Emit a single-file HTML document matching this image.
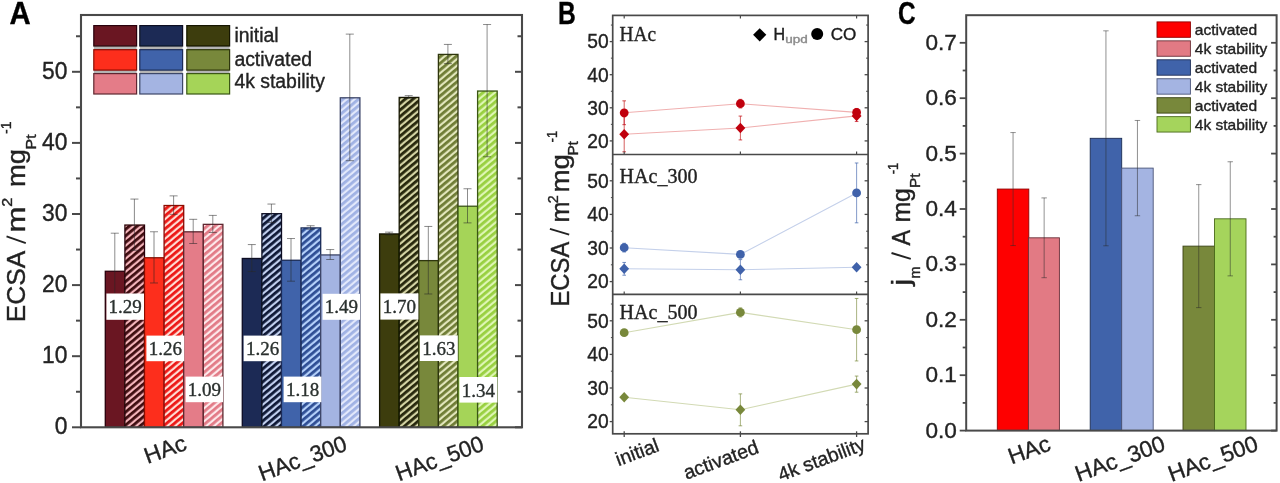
<!DOCTYPE html>
<html><head><meta charset="utf-8"><title>ECSA figure</title>
<style>
html,body{margin:0;padding:0;background:#fff;}
body{width:1280px;height:483px;overflow:hidden;font-family:"Liberation Sans",sans-serif;}
svg{display:block;}
text{stroke-width:0.36px;}
.t{stroke:#222222;}
</style></head><body>
<svg width="1280" height="483" viewBox="0 0 1280 483">
<defs>
<filter id="soft" x="0" y="0" width="1280" height="483" filterUnits="userSpaceOnUse"><feGaussianBlur stdDeviation="0.7"/></filter>
<pattern id="hr1" width="5.0" height="5.0" patternUnits="userSpaceOnUse" patternTransform="rotate(-40)"><rect width="5.0" height="5.0" fill="#f4b4ba"/><rect width="5.0" height="2.80" fill="#3e0a11"/></pattern>
<pattern id="hr2" width="5.0" height="5.0" patternUnits="userSpaceOnUse" patternTransform="rotate(-40)"><rect width="5.0" height="5.0" fill="#ffdcd4"/><rect width="5.0" height="2.80" fill="#ec1612"/></pattern>
<pattern id="hr3" width="5.0" height="5.0" patternUnits="userSpaceOnUse" patternTransform="rotate(-40)"><rect width="5.0" height="5.0" fill="#fde8ea"/><rect width="5.0" height="2.80" fill="#e27a86"/></pattern>
<pattern id="hb1" width="5.0" height="5.0" patternUnits="userSpaceOnUse" patternTransform="rotate(-40)"><rect width="5.0" height="5.0" fill="#c0ceee"/><rect width="5.0" height="2.80" fill="#0e1834"/></pattern>
<pattern id="hb2" width="5.0" height="5.0" patternUnits="userSpaceOnUse" patternTransform="rotate(-40)"><rect width="5.0" height="5.0" fill="#b4d0fa"/><rect width="5.0" height="2.80" fill="#2e4e94"/></pattern>
<pattern id="hb3" width="5.0" height="5.0" patternUnits="userSpaceOnUse" patternTransform="rotate(-40)"><rect width="5.0" height="5.0" fill="#e2e8fb"/><rect width="5.0" height="2.80" fill="#a0b2e4"/></pattern>
<pattern id="hg1" width="5.0" height="5.0" patternUnits="userSpaceOnUse" patternTransform="rotate(-40)"><rect width="5.0" height="5.0" fill="#d4d4a4"/><rect width="5.0" height="2.80" fill="#25260a"/></pattern>
<pattern id="hg2" width="5.0" height="5.0" patternUnits="userSpaceOnUse" patternTransform="rotate(-40)"><rect width="5.0" height="5.0" fill="#e2e6bc"/><rect width="5.0" height="2.80" fill="#6e7c34"/></pattern>
<pattern id="hg3" width="5.0" height="5.0" patternUnits="userSpaceOnUse" patternTransform="rotate(-40)"><rect width="5.0" height="5.0" fill="#def6b4"/><rect width="5.0" height="2.80" fill="#98d040"/></pattern>
</defs>
<rect width="1280" height="483" fill="#ffffff"/>
<g filter="url(#soft)">
<g id="panelA">
<rect x="105.30" y="271.28" width="19.60" height="156.02" fill="#6a1720" stroke="#2a060b" stroke-width="1.3"/>
<rect x="124.90" y="225.06" width="19.60" height="202.24" fill="url(#hr1)" stroke="#2a060b" stroke-width="1.3"/>
<rect x="144.50" y="257.77" width="19.60" height="169.53" fill="#fd2f1c" stroke="#8a0c06" stroke-width="1.3"/>
<rect x="164.10" y="205.51" width="19.60" height="221.79" fill="url(#hr2)" stroke="#8a0c06" stroke-width="1.3"/>
<rect x="183.70" y="231.82" width="19.60" height="195.48" fill="#e47c88" stroke="#5e2830" stroke-width="1.3"/>
<rect x="203.30" y="224.35" width="19.60" height="202.95" fill="url(#hr3)" stroke="#5e2830" stroke-width="1.3"/>
<line x1="114.80" y1="233.20" x2="114.80" y2="308.56" stroke="rgba(40,40,40,0.6)" stroke-width="0.9"/>
<line x1="110.80" y1="233.20" x2="118.80" y2="233.20" stroke="rgba(40,40,40,0.6)" stroke-width="0.9"/>
<line x1="110.80" y1="308.56" x2="118.80" y2="308.56" stroke="rgba(40,40,40,0.6)" stroke-width="0.9"/>
<line x1="134.40" y1="199.07" x2="134.40" y2="250.26" stroke="rgba(40,40,40,0.6)" stroke-width="0.9"/>
<line x1="130.40" y1="199.07" x2="138.40" y2="199.07" stroke="rgba(40,40,40,0.6)" stroke-width="0.9"/>
<line x1="130.40" y1="250.26" x2="138.40" y2="250.26" stroke="rgba(40,40,40,0.6)" stroke-width="0.9"/>
<line x1="154.00" y1="231.78" x2="154.00" y2="282.97" stroke="rgba(40,40,40,0.6)" stroke-width="0.9"/>
<line x1="150.00" y1="231.78" x2="158.00" y2="231.78" stroke="rgba(40,40,40,0.6)" stroke-width="0.9"/>
<line x1="150.00" y1="282.97" x2="158.00" y2="282.97" stroke="rgba(40,40,40,0.6)" stroke-width="0.9"/>
<line x1="173.60" y1="195.87" x2="173.60" y2="214.36" stroke="rgba(40,40,40,0.6)" stroke-width="0.9"/>
<line x1="169.60" y1="195.87" x2="177.60" y2="195.87" stroke="rgba(40,40,40,0.6)" stroke-width="0.9"/>
<line x1="169.60" y1="214.36" x2="177.60" y2="214.36" stroke="rgba(40,40,40,0.6)" stroke-width="0.9"/>
<line x1="193.20" y1="219.33" x2="193.20" y2="243.51" stroke="rgba(40,40,40,0.6)" stroke-width="0.9"/>
<line x1="189.20" y1="219.33" x2="197.20" y2="219.33" stroke="rgba(40,40,40,0.6)" stroke-width="0.9"/>
<line x1="189.20" y1="243.51" x2="197.20" y2="243.51" stroke="rgba(40,40,40,0.6)" stroke-width="0.9"/>
<line x1="212.80" y1="215.42" x2="212.80" y2="232.49" stroke="rgba(40,40,40,0.6)" stroke-width="0.9"/>
<line x1="208.80" y1="215.42" x2="216.80" y2="215.42" stroke="rgba(40,40,40,0.6)" stroke-width="0.9"/>
<line x1="208.80" y1="232.49" x2="216.80" y2="232.49" stroke="rgba(40,40,40,0.6)" stroke-width="0.9"/>
<rect x="242.30" y="258.48" width="19.60" height="168.82" fill="#1d2c55" stroke="#0a1024" stroke-width="1.3"/>
<rect x="261.90" y="213.69" width="19.60" height="213.61" fill="url(#hb1)" stroke="#0a1024" stroke-width="1.3"/>
<rect x="281.50" y="260.26" width="19.60" height="167.04" fill="#4064aa" stroke="#1a2c58" stroke-width="1.3"/>
<rect x="301.10" y="227.91" width="19.60" height="199.39" fill="url(#hb2)" stroke="#1a2c58" stroke-width="1.3"/>
<rect x="320.70" y="254.93" width="19.60" height="172.37" fill="#a4b4e2" stroke="#3c4668" stroke-width="1.3"/>
<rect x="340.30" y="97.80" width="19.60" height="329.50" fill="url(#hb3)" stroke="#3c4668" stroke-width="1.3"/>
<line x1="251.80" y1="244.57" x2="251.80" y2="271.59" stroke="rgba(40,40,40,0.6)" stroke-width="0.9"/>
<line x1="247.80" y1="244.57" x2="255.80" y2="244.57" stroke="rgba(40,40,40,0.6)" stroke-width="0.9"/>
<line x1="247.80" y1="271.59" x2="255.80" y2="271.59" stroke="rgba(40,40,40,0.6)" stroke-width="0.9"/>
<line x1="271.40" y1="204.05" x2="271.40" y2="222.53" stroke="rgba(40,40,40,0.6)" stroke-width="0.9"/>
<line x1="267.40" y1="204.05" x2="275.40" y2="204.05" stroke="rgba(40,40,40,0.6)" stroke-width="0.9"/>
<line x1="267.40" y1="222.53" x2="275.40" y2="222.53" stroke="rgba(40,40,40,0.6)" stroke-width="0.9"/>
<line x1="291.00" y1="238.53" x2="291.00" y2="281.19" stroke="rgba(40,40,40,0.6)" stroke-width="0.9"/>
<line x1="287.00" y1="238.53" x2="295.00" y2="238.53" stroke="rgba(40,40,40,0.6)" stroke-width="0.9"/>
<line x1="287.00" y1="281.19" x2="295.00" y2="281.19" stroke="rgba(40,40,40,0.6)" stroke-width="0.9"/>
<line x1="310.60" y1="225.73" x2="310.60" y2="229.29" stroke="rgba(40,40,40,0.6)" stroke-width="0.9"/>
<line x1="306.60" y1="225.73" x2="314.60" y2="225.73" stroke="rgba(40,40,40,0.6)" stroke-width="0.9"/>
<line x1="306.60" y1="229.29" x2="314.60" y2="229.29" stroke="rgba(40,40,40,0.6)" stroke-width="0.9"/>
<line x1="330.20" y1="249.55" x2="330.20" y2="259.50" stroke="rgba(40,40,40,0.6)" stroke-width="0.9"/>
<line x1="326.20" y1="249.55" x2="334.20" y2="249.55" stroke="rgba(40,40,40,0.6)" stroke-width="0.9"/>
<line x1="326.20" y1="259.50" x2="334.20" y2="259.50" stroke="rgba(40,40,40,0.6)" stroke-width="0.9"/>
<line x1="349.80" y1="34.12" x2="349.80" y2="160.68" stroke="rgba(40,40,40,0.6)" stroke-width="0.9"/>
<line x1="345.80" y1="34.12" x2="353.80" y2="34.12" stroke="rgba(40,40,40,0.6)" stroke-width="0.9"/>
<line x1="345.80" y1="160.68" x2="353.80" y2="160.68" stroke="rgba(40,40,40,0.6)" stroke-width="0.9"/>
<rect x="379.60" y="233.95" width="19.60" height="193.35" fill="#3d3e0a" stroke="#141502" stroke-width="1.3"/>
<rect x="399.20" y="97.44" width="19.60" height="329.86" fill="url(#hg1)" stroke="#141502" stroke-width="1.3"/>
<rect x="418.80" y="260.62" width="19.60" height="166.68" fill="#78883a" stroke="#2e360e" stroke-width="1.3"/>
<rect x="438.40" y="54.42" width="19.60" height="372.88" fill="url(#hg2)" stroke="#2e360e" stroke-width="1.3"/>
<rect x="458.00" y="206.22" width="19.60" height="221.08" fill="#a5d458" stroke="#3a5614" stroke-width="1.3"/>
<rect x="477.60" y="91.04" width="19.60" height="336.26" fill="url(#hg3)" stroke="#3a5614" stroke-width="1.3"/>
<line x1="389.10" y1="232.13" x2="389.10" y2="234.97" stroke="rgba(40,40,40,0.6)" stroke-width="0.9"/>
<line x1="385.10" y1="232.13" x2="393.10" y2="232.13" stroke="rgba(40,40,40,0.6)" stroke-width="0.9"/>
<line x1="385.10" y1="234.97" x2="393.10" y2="234.97" stroke="rgba(40,40,40,0.6)" stroke-width="0.9"/>
<line x1="408.70" y1="95.62" x2="408.70" y2="98.46" stroke="rgba(40,40,40,0.6)" stroke-width="0.9"/>
<line x1="404.70" y1="95.62" x2="412.70" y2="95.62" stroke="rgba(40,40,40,0.6)" stroke-width="0.9"/>
<line x1="404.70" y1="98.46" x2="412.70" y2="98.46" stroke="rgba(40,40,40,0.6)" stroke-width="0.9"/>
<line x1="428.30" y1="226.44" x2="428.30" y2="293.99" stroke="rgba(40,40,40,0.6)" stroke-width="0.9"/>
<line x1="424.30" y1="226.44" x2="432.30" y2="226.44" stroke="rgba(40,40,40,0.6)" stroke-width="0.9"/>
<line x1="424.30" y1="293.99" x2="432.30" y2="293.99" stroke="rgba(40,40,40,0.6)" stroke-width="0.9"/>
<line x1="447.90" y1="44.43" x2="447.90" y2="63.62" stroke="rgba(40,40,40,0.6)" stroke-width="0.9"/>
<line x1="443.90" y1="44.43" x2="451.90" y2="44.43" stroke="rgba(40,40,40,0.6)" stroke-width="0.9"/>
<line x1="443.90" y1="63.62" x2="451.90" y2="63.62" stroke="rgba(40,40,40,0.6)" stroke-width="0.9"/>
<line x1="467.50" y1="188.76" x2="467.50" y2="222.89" stroke="rgba(40,40,40,0.6)" stroke-width="0.9"/>
<line x1="463.50" y1="188.76" x2="471.50" y2="188.76" stroke="rgba(40,40,40,0.6)" stroke-width="0.9"/>
<line x1="463.50" y1="222.89" x2="471.50" y2="222.89" stroke="rgba(40,40,40,0.6)" stroke-width="0.9"/>
<line x1="487.10" y1="24.52" x2="487.10" y2="156.76" stroke="rgba(40,40,40,0.6)" stroke-width="0.9"/>
<line x1="483.10" y1="24.52" x2="491.10" y2="24.52" stroke="rgba(40,40,40,0.6)" stroke-width="0.9"/>
<line x1="483.10" y1="156.76" x2="491.10" y2="156.76" stroke="rgba(40,40,40,0.6)" stroke-width="0.9"/>
<rect x="106.40" y="293.50" width="37.60" height="26.30" fill="#ffffff"/>
<text x="125.20" y="313.10" font-size="19" font-family='"Liberation Serif", serif' fill="#2a302e" text-anchor="middle" stroke="#2a302e" stroke-width="0.3">1.29</text>
<rect x="146.40" y="335.60" width="37.80" height="25.60" fill="#ffffff"/>
<text x="165.30" y="355.20" font-size="19" font-family='"Liberation Serif", serif' fill="#2a302e" text-anchor="middle" stroke="#2a302e" stroke-width="0.3">1.26</text>
<rect x="185.60" y="376.60" width="37.40" height="25.60" fill="#ffffff"/>
<text x="204.30" y="396.20" font-size="19" font-family='"Liberation Serif", serif' fill="#2a302e" text-anchor="middle" stroke="#2a302e" stroke-width="0.3">1.09</text>
<rect x="243.60" y="335.60" width="37.80" height="25.60" fill="#ffffff"/>
<text x="262.50" y="355.20" font-size="19" font-family='"Liberation Serif", serif' fill="#2a302e" text-anchor="middle" stroke="#2a302e" stroke-width="0.3">1.26</text>
<rect x="283.60" y="376.60" width="37.80" height="25.60" fill="#ffffff"/>
<text x="302.50" y="396.20" font-size="19" font-family='"Liberation Serif", serif' fill="#2a302e" text-anchor="middle" stroke="#2a302e" stroke-width="0.3">1.18</text>
<rect x="322.60" y="293.80" width="37.40" height="26.00" fill="#ffffff"/>
<text x="341.30" y="313.40" font-size="19" font-family='"Liberation Serif", serif' fill="#2a302e" text-anchor="middle" stroke="#2a302e" stroke-width="0.3">1.49</text>
<rect x="380.40" y="293.40" width="38.00" height="26.20" fill="#ffffff"/>
<text x="399.40" y="313.00" font-size="19" font-family='"Liberation Serif", serif' fill="#2a302e" text-anchor="middle" stroke="#2a302e" stroke-width="0.3">1.70</text>
<rect x="419.80" y="335.40" width="38.00" height="25.60" fill="#ffffff"/>
<text x="438.80" y="355.00" font-size="19" font-family='"Liberation Serif", serif' fill="#2a302e" text-anchor="middle" stroke="#2a302e" stroke-width="0.3">1.63</text>
<rect x="459.40" y="377.00" width="38.00" height="25.60" fill="#ffffff"/>
<text x="478.40" y="396.60" font-size="19" font-family='"Liberation Serif", serif' fill="#2a302e" text-anchor="middle" stroke="#2a302e" stroke-width="0.3">1.34</text>
<rect x="81.00" y="15.00" width="441.00" height="412.30" fill="none" stroke="#4a4a4a" stroke-width="2.1"/>
<line x1="72.00" y1="427.30" x2="81.00" y2="427.30" stroke="#4a4a4a" stroke-width="2.0"/>
<line x1="515.00" y1="427.30" x2="522.00" y2="427.30" stroke="#4a4a4a" stroke-width="2.0"/>
<line x1="76.00" y1="391.75" x2="81.00" y2="391.75" stroke="#4a4a4a" stroke-width="2.0"/>
<line x1="517.50" y1="391.75" x2="522.00" y2="391.75" stroke="#4a4a4a" stroke-width="2.0"/>
<line x1="72.00" y1="356.20" x2="81.00" y2="356.20" stroke="#4a4a4a" stroke-width="2.0"/>
<line x1="515.00" y1="356.20" x2="522.00" y2="356.20" stroke="#4a4a4a" stroke-width="2.0"/>
<line x1="76.00" y1="320.65" x2="81.00" y2="320.65" stroke="#4a4a4a" stroke-width="2.0"/>
<line x1="517.50" y1="320.65" x2="522.00" y2="320.65" stroke="#4a4a4a" stroke-width="2.0"/>
<line x1="72.00" y1="285.10" x2="81.00" y2="285.10" stroke="#4a4a4a" stroke-width="2.0"/>
<line x1="515.00" y1="285.10" x2="522.00" y2="285.10" stroke="#4a4a4a" stroke-width="2.0"/>
<line x1="76.00" y1="249.55" x2="81.00" y2="249.55" stroke="#4a4a4a" stroke-width="2.0"/>
<line x1="517.50" y1="249.55" x2="522.00" y2="249.55" stroke="#4a4a4a" stroke-width="2.0"/>
<line x1="72.00" y1="214.00" x2="81.00" y2="214.00" stroke="#4a4a4a" stroke-width="2.0"/>
<line x1="515.00" y1="214.00" x2="522.00" y2="214.00" stroke="#4a4a4a" stroke-width="2.0"/>
<line x1="76.00" y1="178.45" x2="81.00" y2="178.45" stroke="#4a4a4a" stroke-width="2.0"/>
<line x1="517.50" y1="178.45" x2="522.00" y2="178.45" stroke="#4a4a4a" stroke-width="2.0"/>
<line x1="72.00" y1="142.90" x2="81.00" y2="142.90" stroke="#4a4a4a" stroke-width="2.0"/>
<line x1="515.00" y1="142.90" x2="522.00" y2="142.90" stroke="#4a4a4a" stroke-width="2.0"/>
<line x1="76.00" y1="107.35" x2="81.00" y2="107.35" stroke="#4a4a4a" stroke-width="2.0"/>
<line x1="517.50" y1="107.35" x2="522.00" y2="107.35" stroke="#4a4a4a" stroke-width="2.0"/>
<line x1="72.00" y1="71.80" x2="81.00" y2="71.80" stroke="#4a4a4a" stroke-width="2.0"/>
<line x1="515.00" y1="71.80" x2="522.00" y2="71.80" stroke="#4a4a4a" stroke-width="2.0"/>
<line x1="76.00" y1="36.25" x2="81.00" y2="36.25" stroke="#4a4a4a" stroke-width="2.0"/>
<line x1="517.50" y1="36.25" x2="522.00" y2="36.25" stroke="#4a4a4a" stroke-width="2.0"/>
<text x="67.50" y="434.10" font-size="23.6" font-family='"Liberation Sans", sans-serif' fill="#222222" stroke="#222222" text-anchor="end" textLength="12.70" lengthAdjust="spacingAndGlyphs">0</text>
<text x="67.50" y="363.00" font-size="23.6" font-family='"Liberation Sans", sans-serif' fill="#222222" stroke="#222222" text-anchor="end" textLength="25.40" lengthAdjust="spacingAndGlyphs">10</text>
<text x="67.50" y="291.90" font-size="23.6" font-family='"Liberation Sans", sans-serif' fill="#222222" stroke="#222222" text-anchor="end" textLength="25.40" lengthAdjust="spacingAndGlyphs">20</text>
<text x="67.50" y="220.80" font-size="23.6" font-family='"Liberation Sans", sans-serif' fill="#222222" stroke="#222222" text-anchor="end" textLength="25.40" lengthAdjust="spacingAndGlyphs">30</text>
<text x="67.50" y="149.70" font-size="23.6" font-family='"Liberation Sans", sans-serif' fill="#222222" stroke="#222222" text-anchor="end" textLength="25.40" lengthAdjust="spacingAndGlyphs">40</text>
<text x="67.50" y="78.60" font-size="23.6" font-family='"Liberation Sans", sans-serif' fill="#222222" stroke="#222222" text-anchor="end" textLength="25.40" lengthAdjust="spacingAndGlyphs">50</text>
<rect x="93.80" y="44.60" width="42.80" height="5.50" fill="#b4b4b4"/>
<rect x="93.80" y="25.60" width="42.80" height="20.40" fill="#6a1720" stroke="#2a060b" stroke-width="1.2"/>
<rect x="139.80" y="44.60" width="42.80" height="5.50" fill="#b4b4b4"/>
<rect x="139.80" y="25.60" width="42.80" height="20.40" fill="#1d2c55" stroke="#0a1024" stroke-width="1.2"/>
<rect x="186.80" y="44.60" width="42.80" height="5.50" fill="#b4b4b4"/>
<rect x="186.80" y="25.60" width="42.80" height="20.40" fill="#3d3e0a" stroke="#141502" stroke-width="1.2"/>
<rect x="93.80" y="68.70" width="42.80" height="5.50" fill="#b4b4b4"/>
<rect x="93.80" y="49.70" width="42.80" height="20.40" fill="#fd2f1c" stroke="#8a0c06" stroke-width="1.2"/>
<rect x="139.80" y="68.70" width="42.80" height="5.50" fill="#b4b4b4"/>
<rect x="139.80" y="49.70" width="42.80" height="20.40" fill="#4064aa" stroke="#1a2c58" stroke-width="1.2"/>
<rect x="186.80" y="68.70" width="42.80" height="5.50" fill="#b4b4b4"/>
<rect x="186.80" y="49.70" width="42.80" height="20.40" fill="#78883a" stroke="#2e360e" stroke-width="1.2"/>
<rect x="93.80" y="73.60" width="42.80" height="20.40" fill="#e47c88" stroke="#5e2830" stroke-width="1.2"/>
<rect x="139.80" y="73.60" width="42.80" height="20.40" fill="#a4b4e2" stroke="#3c4668" stroke-width="1.2"/>
<rect x="186.80" y="73.60" width="42.80" height="20.40" fill="#a5d458" stroke="#3a5614" stroke-width="1.2"/>
<text x="234.40" y="42.00" font-size="19.4" font-family='"Liberation Sans", sans-serif' fill="#222222" stroke="#222222">initial</text>
<text x="234.40" y="65.60" font-size="19.4" font-family='"Liberation Sans", sans-serif' fill="#222222" stroke="#222222">activated</text>
<text x="234.40" y="88.40" font-size="19.4" font-family='"Liberation Sans", sans-serif' fill="#222222" stroke="#222222">4k stability</text>
<text x="147.60" y="464.00" font-size="22.8" font-family='"Liberation Sans", sans-serif' fill="#222222" stroke="#222222" transform="rotate(-20 147.60 464.00)">HAc</text>
<text x="262.00" y="481.40" font-size="22.8" font-family='"Liberation Sans", sans-serif' fill="#222222" stroke="#222222" textLength="92.00" lengthAdjust="spacingAndGlyphs" transform="rotate(-20 262.00 481.40)">HAc_300</text>
<text x="399.00" y="481.40" font-size="22.8" font-family='"Liberation Sans", sans-serif' fill="#222222" stroke="#222222" textLength="92.00" lengthAdjust="spacingAndGlyphs" transform="rotate(-20 399.00 481.40)">HAc_500</text>
<g transform="translate(25.40 320.00) rotate(-90)">
<text x="-2.30" y="0.00" font-size="25.5" font-family='"Liberation Sans", sans-serif' fill="#222222" stroke="#222222" textLength="71.50" lengthAdjust="spacingAndGlyphs">ECSA</text>
<line x1="76.80" y1="0.4" x2="83.70" y2="-18.87" stroke="#222222" stroke-width="1.9"/>
<text x="87.60" y="0.00" font-size="25.5" font-family='"Liberation Sans", sans-serif' fill="#222222" stroke="#222222" textLength="26.00" lengthAdjust="spacingAndGlyphs">m</text>
<text x="113.20" y="-13.00" font-size="14" font-family='"Liberation Sans", sans-serif' fill="#222222" stroke="#222222" textLength="9.00" lengthAdjust="spacingAndGlyphs">2</text>
<text x="133.00" y="0.00" font-size="25.5" font-family='"Liberation Sans", sans-serif' fill="#222222" stroke="#222222" textLength="38.00" lengthAdjust="spacingAndGlyphs">mg</text>
<text x="170.60" y="10.60" font-size="14" font-family='"Liberation Sans", sans-serif' fill="#222222" stroke="#222222" textLength="15.00" lengthAdjust="spacingAndGlyphs">Pt</text>
<text x="186.00" y="-14.50" font-size="14" font-family='"Liberation Sans", sans-serif' fill="#222222" stroke="#222222" textLength="12.50" lengthAdjust="spacingAndGlyphs">-1</text>
</g>
<text x="9.60" y="24.20" font-size="31.6" font-family='"Liberation Sans", sans-serif' fill="#000" stroke="#000" font-weight="bold" textLength="21.20" lengthAdjust="spacingAndGlyphs">A</text>
</g>
<g id="panelB">
<clipPath id="cb0"><rect x="612.7" y="15.4" width="255.39999999999998" height="139.1"/></clipPath>
<g clip-path="url(#cb0)">
<polyline points="624.2,134.3 740.4,128.0 856.6,115.9" fill="none" stroke="#f0b0b0" stroke-width="1.1"/>
<line x1="624.20" y1="116.74" x2="624.20" y2="151.82" stroke="#c0000c" stroke-width="0.9" opacity="0.7"/>
<line x1="622.40" y1="116.74" x2="626.00" y2="116.74" stroke="#c0000c" stroke-width="1.0" opacity="0.7"/>
<line x1="622.40" y1="151.82" x2="626.00" y2="151.82" stroke="#c0000c" stroke-width="1.0" opacity="0.7"/>
<line x1="740.40" y1="116.08" x2="740.40" y2="139.91" stroke="#c0000c" stroke-width="0.9" opacity="0.7"/>
<line x1="738.60" y1="116.08" x2="742.20" y2="116.08" stroke="#c0000c" stroke-width="1.0" opacity="0.7"/>
<line x1="738.60" y1="139.91" x2="742.20" y2="139.91" stroke="#c0000c" stroke-width="1.0" opacity="0.7"/>
<line x1="856.60" y1="110.28" x2="856.60" y2="121.54" stroke="#c0000c" stroke-width="0.9" opacity="0.7"/>
<line x1="854.80" y1="110.28" x2="858.40" y2="110.28" stroke="#c0000c" stroke-width="1.0" opacity="0.7"/>
<line x1="854.80" y1="121.54" x2="858.40" y2="121.54" stroke="#c0000c" stroke-width="1.0" opacity="0.7"/>
<path d="M619.3 134.3 L624.2 129.0 L629.1 134.3 L624.2 139.6 Z" fill="#c0000c"/>
<path d="M735.5 128.0 L740.4 122.7 L745.3 128.0 L740.4 133.3 Z" fill="#c0000c"/>
<path d="M851.7 115.9 L856.6 110.6 L861.5 115.9 L856.6 121.2 Z" fill="#c0000c"/>
<polyline points="624.2,112.8 740.4,103.7 856.6,112.4" fill="none" stroke="#f0b0b0" stroke-width="1.1"/>
<line x1="624.20" y1="100.85" x2="624.20" y2="124.68" stroke="#c0000c" stroke-width="0.9" opacity="0.7"/>
<line x1="622.40" y1="100.85" x2="626.00" y2="100.85" stroke="#c0000c" stroke-width="1.0" opacity="0.7"/>
<line x1="622.40" y1="124.68" x2="626.00" y2="124.68" stroke="#c0000c" stroke-width="1.0" opacity="0.7"/>
<line x1="740.40" y1="99.36" x2="740.40" y2="107.97" stroke="#c0000c" stroke-width="0.9" opacity="0.7"/>
<line x1="738.60" y1="99.36" x2="742.20" y2="99.36" stroke="#c0000c" stroke-width="1.0" opacity="0.7"/>
<line x1="738.60" y1="107.97" x2="742.20" y2="107.97" stroke="#c0000c" stroke-width="1.0" opacity="0.7"/>
<line x1="856.60" y1="108.46" x2="856.60" y2="116.41" stroke="#c0000c" stroke-width="0.9" opacity="0.7"/>
<line x1="854.80" y1="108.46" x2="858.40" y2="108.46" stroke="#c0000c" stroke-width="1.0" opacity="0.7"/>
<line x1="854.80" y1="116.41" x2="858.40" y2="116.41" stroke="#c0000c" stroke-width="1.0" opacity="0.7"/>
<circle cx="624.2" cy="112.8" r="4.4" fill="#c0000c"/>
<circle cx="740.4" cy="103.7" r="4.4" fill="#c0000c"/>
<circle cx="856.6" cy="112.4" r="4.4" fill="#c0000c"/>
</g>
<line x1="609.70" y1="140.90" x2="612.70" y2="140.90" stroke="#4a4a4a" stroke-width="1.3"/>
<line x1="864.60" y1="140.90" x2="868.10" y2="140.90" stroke="#4a4a4a" stroke-width="1.3"/>
<text x="608.60" y="147.70" font-size="20.2" font-family='"Liberation Sans", sans-serif' fill="#222222" stroke="#222222" text-anchor="end" textLength="21.40" lengthAdjust="spacingAndGlyphs">20</text>
<line x1="609.70" y1="107.80" x2="612.70" y2="107.80" stroke="#4a4a4a" stroke-width="1.3"/>
<line x1="864.60" y1="107.80" x2="868.10" y2="107.80" stroke="#4a4a4a" stroke-width="1.3"/>
<text x="608.60" y="114.60" font-size="20.2" font-family='"Liberation Sans", sans-serif' fill="#222222" stroke="#222222" text-anchor="end" textLength="21.40" lengthAdjust="spacingAndGlyphs">30</text>
<line x1="609.70" y1="74.70" x2="612.70" y2="74.70" stroke="#4a4a4a" stroke-width="1.3"/>
<line x1="864.60" y1="74.70" x2="868.10" y2="74.70" stroke="#4a4a4a" stroke-width="1.3"/>
<text x="608.60" y="81.50" font-size="20.2" font-family='"Liberation Sans", sans-serif' fill="#222222" stroke="#222222" text-anchor="end" textLength="21.40" lengthAdjust="spacingAndGlyphs">40</text>
<line x1="609.70" y1="41.60" x2="612.70" y2="41.60" stroke="#4a4a4a" stroke-width="1.3"/>
<line x1="864.60" y1="41.60" x2="868.10" y2="41.60" stroke="#4a4a4a" stroke-width="1.3"/>
<text x="608.60" y="48.40" font-size="20.2" font-family='"Liberation Sans", sans-serif' fill="#222222" stroke="#222222" text-anchor="end" textLength="21.40" lengthAdjust="spacingAndGlyphs">50</text>
<line x1="610.90" y1="124.35" x2="612.70" y2="124.35" stroke="#4a4a4a" stroke-width="1.0"/>
<line x1="866.10" y1="124.35" x2="868.10" y2="124.35" stroke="#4a4a4a" stroke-width="1.0"/>
<line x1="610.90" y1="91.25" x2="612.70" y2="91.25" stroke="#4a4a4a" stroke-width="1.0"/>
<line x1="866.10" y1="91.25" x2="868.10" y2="91.25" stroke="#4a4a4a" stroke-width="1.0"/>
<line x1="610.90" y1="58.15" x2="612.70" y2="58.15" stroke="#4a4a4a" stroke-width="1.0"/>
<line x1="866.10" y1="58.15" x2="868.10" y2="58.15" stroke="#4a4a4a" stroke-width="1.0"/>
<line x1="610.90" y1="25.05" x2="612.70" y2="25.05" stroke="#4a4a4a" stroke-width="1.0"/>
<line x1="866.10" y1="25.05" x2="868.10" y2="25.05" stroke="#4a4a4a" stroke-width="1.0"/>
<clipPath id="cb1"><rect x="612.7" y="154.5" width="255.39999999999998" height="139.89999999999998"/></clipPath>
<g clip-path="url(#cb1)">
<polyline points="624.2,268.8 740.4,269.7 856.6,267.2" fill="none" stroke="#c4d0ea" stroke-width="1.1"/>
<line x1="624.20" y1="262.45" x2="624.20" y2="275.22" stroke="#3f62aa" stroke-width="0.9" opacity="0.7"/>
<line x1="622.40" y1="262.45" x2="626.00" y2="262.45" stroke="#3f62aa" stroke-width="1.0" opacity="0.7"/>
<line x1="622.40" y1="275.22" x2="626.00" y2="275.22" stroke="#3f62aa" stroke-width="1.0" opacity="0.7"/>
<line x1="740.40" y1="259.59" x2="740.40" y2="279.75" stroke="#3f62aa" stroke-width="0.9" opacity="0.7"/>
<line x1="738.60" y1="259.59" x2="742.20" y2="259.59" stroke="#3f62aa" stroke-width="1.0" opacity="0.7"/>
<line x1="738.60" y1="279.75" x2="742.20" y2="279.75" stroke="#3f62aa" stroke-width="1.0" opacity="0.7"/>
<line x1="856.60" y1="264.80" x2="856.60" y2="269.50" stroke="#3f62aa" stroke-width="0.9" opacity="0.7"/>
<line x1="854.80" y1="264.80" x2="858.40" y2="264.80" stroke="#3f62aa" stroke-width="1.0" opacity="0.7"/>
<line x1="854.80" y1="269.50" x2="858.40" y2="269.50" stroke="#3f62aa" stroke-width="1.0" opacity="0.7"/>
<path d="M619.3 268.8 L624.2 263.5 L629.1 268.8 L624.2 274.1 Z" fill="#3f62aa"/>
<path d="M735.5 269.7 L740.4 264.4 L745.3 269.7 L740.4 275.0 Z" fill="#3f62aa"/>
<path d="M851.7 267.2 L856.6 261.9 L861.5 267.2 L856.6 272.5 Z" fill="#3f62aa"/>
<polyline points="624.2,247.7 740.4,254.4 856.6,192.9" fill="none" stroke="#c4d0ea" stroke-width="1.1"/>
<line x1="624.20" y1="243.30" x2="624.20" y2="252.03" stroke="#3f62aa" stroke-width="0.9" opacity="0.7"/>
<line x1="622.40" y1="243.30" x2="626.00" y2="243.30" stroke="#3f62aa" stroke-width="1.0" opacity="0.7"/>
<line x1="622.40" y1="252.03" x2="626.00" y2="252.03" stroke="#3f62aa" stroke-width="1.0" opacity="0.7"/>
<line x1="740.40" y1="253.54" x2="740.40" y2="255.22" stroke="#3f62aa" stroke-width="0.9" opacity="0.7"/>
<line x1="738.60" y1="253.54" x2="742.20" y2="253.54" stroke="#3f62aa" stroke-width="1.0" opacity="0.7"/>
<line x1="738.60" y1="255.22" x2="742.20" y2="255.22" stroke="#3f62aa" stroke-width="1.0" opacity="0.7"/>
<line x1="856.60" y1="162.99" x2="856.60" y2="222.80" stroke="#3f62aa" stroke-width="0.9" opacity="0.7"/>
<line x1="854.80" y1="162.99" x2="858.40" y2="162.99" stroke="#3f62aa" stroke-width="1.0" opacity="0.7"/>
<line x1="854.80" y1="222.80" x2="858.40" y2="222.80" stroke="#3f62aa" stroke-width="1.0" opacity="0.7"/>
<circle cx="624.2" cy="247.7" r="4.4" fill="#3f62aa"/>
<circle cx="740.4" cy="254.4" r="4.4" fill="#3f62aa"/>
<circle cx="856.6" cy="192.9" r="4.4" fill="#3f62aa"/>
</g>
<line x1="609.70" y1="281.60" x2="612.70" y2="281.60" stroke="#4a4a4a" stroke-width="1.3"/>
<line x1="864.60" y1="281.60" x2="868.10" y2="281.60" stroke="#4a4a4a" stroke-width="1.3"/>
<text x="608.60" y="288.40" font-size="20.2" font-family='"Liberation Sans", sans-serif' fill="#222222" stroke="#222222" text-anchor="end" textLength="21.40" lengthAdjust="spacingAndGlyphs">20</text>
<line x1="609.70" y1="248.00" x2="612.70" y2="248.00" stroke="#4a4a4a" stroke-width="1.3"/>
<line x1="864.60" y1="248.00" x2="868.10" y2="248.00" stroke="#4a4a4a" stroke-width="1.3"/>
<text x="608.60" y="254.80" font-size="20.2" font-family='"Liberation Sans", sans-serif' fill="#222222" stroke="#222222" text-anchor="end" textLength="21.40" lengthAdjust="spacingAndGlyphs">30</text>
<line x1="609.70" y1="214.40" x2="612.70" y2="214.40" stroke="#4a4a4a" stroke-width="1.3"/>
<line x1="864.60" y1="214.40" x2="868.10" y2="214.40" stroke="#4a4a4a" stroke-width="1.3"/>
<text x="608.60" y="221.20" font-size="20.2" font-family='"Liberation Sans", sans-serif' fill="#222222" stroke="#222222" text-anchor="end" textLength="21.40" lengthAdjust="spacingAndGlyphs">40</text>
<line x1="609.70" y1="180.80" x2="612.70" y2="180.80" stroke="#4a4a4a" stroke-width="1.3"/>
<line x1="864.60" y1="180.80" x2="868.10" y2="180.80" stroke="#4a4a4a" stroke-width="1.3"/>
<text x="608.60" y="187.60" font-size="20.2" font-family='"Liberation Sans", sans-serif' fill="#222222" stroke="#222222" text-anchor="end" textLength="21.40" lengthAdjust="spacingAndGlyphs">50</text>
<line x1="610.90" y1="264.80" x2="612.70" y2="264.80" stroke="#4a4a4a" stroke-width="1.0"/>
<line x1="866.10" y1="264.80" x2="868.10" y2="264.80" stroke="#4a4a4a" stroke-width="1.0"/>
<line x1="610.90" y1="231.20" x2="612.70" y2="231.20" stroke="#4a4a4a" stroke-width="1.0"/>
<line x1="866.10" y1="231.20" x2="868.10" y2="231.20" stroke="#4a4a4a" stroke-width="1.0"/>
<line x1="610.90" y1="197.60" x2="612.70" y2="197.60" stroke="#4a4a4a" stroke-width="1.0"/>
<line x1="866.10" y1="197.60" x2="868.10" y2="197.60" stroke="#4a4a4a" stroke-width="1.0"/>
<line x1="610.90" y1="164.00" x2="612.70" y2="164.00" stroke="#4a4a4a" stroke-width="1.0"/>
<line x1="866.10" y1="164.00" x2="868.10" y2="164.00" stroke="#4a4a4a" stroke-width="1.0"/>
<clipPath id="cb2"><rect x="612.7" y="294.4" width="255.39999999999998" height="139.40000000000003"/></clipPath>
<g clip-path="url(#cb2)">
<polyline points="624.2,397.2 740.4,409.8 856.6,384.1" fill="none" stroke="#d2dab4" stroke-width="1.1"/>
<line x1="624.20" y1="396.57" x2="624.20" y2="397.91" stroke="#78883a" stroke-width="0.9" opacity="0.7"/>
<line x1="622.40" y1="396.57" x2="626.00" y2="396.57" stroke="#78883a" stroke-width="1.0" opacity="0.7"/>
<line x1="622.40" y1="397.91" x2="626.00" y2="397.91" stroke="#78883a" stroke-width="1.0" opacity="0.7"/>
<line x1="740.40" y1="393.88" x2="740.40" y2="425.80" stroke="#78883a" stroke-width="0.9" opacity="0.7"/>
<line x1="738.60" y1="393.88" x2="742.20" y2="393.88" stroke="#78883a" stroke-width="1.0" opacity="0.7"/>
<line x1="738.60" y1="425.80" x2="742.20" y2="425.80" stroke="#78883a" stroke-width="1.0" opacity="0.7"/>
<line x1="856.60" y1="376.07" x2="856.60" y2="392.20" stroke="#78883a" stroke-width="0.9" opacity="0.7"/>
<line x1="854.80" y1="376.07" x2="858.40" y2="376.07" stroke="#78883a" stroke-width="1.0" opacity="0.7"/>
<line x1="854.80" y1="392.20" x2="858.40" y2="392.20" stroke="#78883a" stroke-width="1.0" opacity="0.7"/>
<path d="M619.3 397.2 L624.2 391.9 L629.1 397.2 L624.2 402.5 Z" fill="#78883a"/>
<path d="M735.5 409.8 L740.4 404.5 L745.3 409.8 L740.4 415.1 Z" fill="#78883a"/>
<path d="M851.7 384.1 L856.6 378.8 L861.5 384.1 L856.6 389.4 Z" fill="#78883a"/>
<polyline points="624.2,332.7 740.4,312.4 856.6,329.7" fill="none" stroke="#d2dab4" stroke-width="1.1"/>
<line x1="624.20" y1="332.06" x2="624.20" y2="333.40" stroke="#78883a" stroke-width="0.9" opacity="0.7"/>
<line x1="622.40" y1="332.06" x2="626.00" y2="332.06" stroke="#78883a" stroke-width="1.0" opacity="0.7"/>
<line x1="622.40" y1="333.40" x2="626.00" y2="333.40" stroke="#78883a" stroke-width="1.0" opacity="0.7"/>
<line x1="740.40" y1="307.86" x2="740.40" y2="316.94" stroke="#78883a" stroke-width="0.9" opacity="0.7"/>
<line x1="738.60" y1="307.86" x2="742.20" y2="307.86" stroke="#78883a" stroke-width="1.0" opacity="0.7"/>
<line x1="738.60" y1="316.94" x2="742.20" y2="316.94" stroke="#78883a" stroke-width="1.0" opacity="0.7"/>
<line x1="856.60" y1="298.46" x2="856.60" y2="360.95" stroke="#78883a" stroke-width="0.9" opacity="0.7"/>
<line x1="854.80" y1="298.46" x2="858.40" y2="298.46" stroke="#78883a" stroke-width="1.0" opacity="0.7"/>
<line x1="854.80" y1="360.95" x2="858.40" y2="360.95" stroke="#78883a" stroke-width="1.0" opacity="0.7"/>
<circle cx="624.2" cy="332.7" r="4.4" fill="#78883a"/>
<circle cx="740.4" cy="312.4" r="4.4" fill="#78883a"/>
<circle cx="856.6" cy="329.7" r="4.4" fill="#78883a"/>
</g>
<line x1="609.70" y1="421.60" x2="612.70" y2="421.60" stroke="#4a4a4a" stroke-width="1.3"/>
<line x1="864.60" y1="421.60" x2="868.10" y2="421.60" stroke="#4a4a4a" stroke-width="1.3"/>
<text x="608.60" y="428.40" font-size="20.2" font-family='"Liberation Sans", sans-serif' fill="#222222" stroke="#222222" text-anchor="end" textLength="21.40" lengthAdjust="spacingAndGlyphs">20</text>
<line x1="609.70" y1="388.00" x2="612.70" y2="388.00" stroke="#4a4a4a" stroke-width="1.3"/>
<line x1="864.60" y1="388.00" x2="868.10" y2="388.00" stroke="#4a4a4a" stroke-width="1.3"/>
<text x="608.60" y="394.80" font-size="20.2" font-family='"Liberation Sans", sans-serif' fill="#222222" stroke="#222222" text-anchor="end" textLength="21.40" lengthAdjust="spacingAndGlyphs">30</text>
<line x1="609.70" y1="354.40" x2="612.70" y2="354.40" stroke="#4a4a4a" stroke-width="1.3"/>
<line x1="864.60" y1="354.40" x2="868.10" y2="354.40" stroke="#4a4a4a" stroke-width="1.3"/>
<text x="608.60" y="361.20" font-size="20.2" font-family='"Liberation Sans", sans-serif' fill="#222222" stroke="#222222" text-anchor="end" textLength="21.40" lengthAdjust="spacingAndGlyphs">40</text>
<line x1="609.70" y1="320.80" x2="612.70" y2="320.80" stroke="#4a4a4a" stroke-width="1.3"/>
<line x1="864.60" y1="320.80" x2="868.10" y2="320.80" stroke="#4a4a4a" stroke-width="1.3"/>
<text x="608.60" y="327.60" font-size="20.2" font-family='"Liberation Sans", sans-serif' fill="#222222" stroke="#222222" text-anchor="end" textLength="21.40" lengthAdjust="spacingAndGlyphs">50</text>
<line x1="610.90" y1="404.80" x2="612.70" y2="404.80" stroke="#4a4a4a" stroke-width="1.0"/>
<line x1="866.10" y1="404.80" x2="868.10" y2="404.80" stroke="#4a4a4a" stroke-width="1.0"/>
<line x1="610.90" y1="371.20" x2="612.70" y2="371.20" stroke="#4a4a4a" stroke-width="1.0"/>
<line x1="866.10" y1="371.20" x2="868.10" y2="371.20" stroke="#4a4a4a" stroke-width="1.0"/>
<line x1="610.90" y1="337.60" x2="612.70" y2="337.60" stroke="#4a4a4a" stroke-width="1.0"/>
<line x1="866.10" y1="337.60" x2="868.10" y2="337.60" stroke="#4a4a4a" stroke-width="1.0"/>
<line x1="610.90" y1="304.00" x2="612.70" y2="304.00" stroke="#4a4a4a" stroke-width="1.0"/>
<line x1="866.10" y1="304.00" x2="868.10" y2="304.00" stroke="#4a4a4a" stroke-width="1.0"/>
<rect x="612.70" y="15.40" width="255.40" height="418.40" fill="none" stroke="#4a4a4a" stroke-width="1.7"/>
<line x1="612.70" y1="154.50" x2="868.10" y2="154.50" stroke="#4a4a4a" stroke-width="1.7"/>
<line x1="612.70" y1="294.40" x2="868.10" y2="294.40" stroke="#4a4a4a" stroke-width="1.7"/>
<line x1="624.20" y1="15.40" x2="624.20" y2="18.40" stroke="#4a4a4a" stroke-width="1.2"/>
<line x1="624.20" y1="151.50" x2="624.20" y2="154.50" stroke="#4a4a4a" stroke-width="1.2"/>
<line x1="624.20" y1="291.40" x2="624.20" y2="294.40" stroke="#4a4a4a" stroke-width="1.2"/>
<line x1="624.20" y1="431.30" x2="624.20" y2="437.00" stroke="#4a4a4a" stroke-width="1.3"/>
<line x1="740.40" y1="15.40" x2="740.40" y2="18.40" stroke="#4a4a4a" stroke-width="1.2"/>
<line x1="740.40" y1="151.50" x2="740.40" y2="154.50" stroke="#4a4a4a" stroke-width="1.2"/>
<line x1="740.40" y1="291.40" x2="740.40" y2="294.40" stroke="#4a4a4a" stroke-width="1.2"/>
<line x1="740.40" y1="431.30" x2="740.40" y2="437.00" stroke="#4a4a4a" stroke-width="1.3"/>
<line x1="856.60" y1="15.40" x2="856.60" y2="18.40" stroke="#4a4a4a" stroke-width="1.2"/>
<line x1="856.60" y1="151.50" x2="856.60" y2="154.50" stroke="#4a4a4a" stroke-width="1.2"/>
<line x1="856.60" y1="291.40" x2="856.60" y2="294.40" stroke="#4a4a4a" stroke-width="1.2"/>
<line x1="856.60" y1="431.30" x2="856.60" y2="437.00" stroke="#4a4a4a" stroke-width="1.3"/>
<text x="619.50" y="41.20" font-size="20.0" font-family='"Liberation Serif", serif' fill="#222222" textLength="36.50" lengthAdjust="spacingAndGlyphs" stroke="#222222" stroke-width="0.6">HAc</text>
<text x="619.50" y="182.80" font-size="20.0" font-family='"Liberation Serif", serif' fill="#222222" textLength="78.00" lengthAdjust="spacingAndGlyphs" stroke="#222222" stroke-width="0.6">HAc_300</text>
<text x="619.50" y="318.80" font-size="20.0" font-family='"Liberation Serif", serif' fill="#222222" textLength="78.00" lengthAdjust="spacingAndGlyphs" stroke="#222222" stroke-width="0.6">HAc_500</text>
<path d="M753.1 34.8 L759.7 28.2 L766.3 34.8 L759.7 41.4 Z" fill="#000"/>
<circle cx="817.2" cy="34.0" r="6.0" fill="#000"/>
<text x="773.40" y="39.60" font-size="16.0" font-family='"Liberation Sans", sans-serif' fill="#1a1a1a" stroke="#1a1a1a" textLength="11.60" lengthAdjust="spacingAndGlyphs">H</text>
<text x="785.20" y="43.20" font-size="10.5" font-family='"Liberation Sans", sans-serif' fill="#8a8a8a" stroke="#8a8a8a" textLength="22.50" lengthAdjust="spacingAndGlyphs">upd</text>
<text x="830.80" y="39.60" font-size="16.0" font-family='"Liberation Sans", sans-serif' fill="#1a1a1a" stroke="#1a1a1a" textLength="25.60" lengthAdjust="spacingAndGlyphs">CO</text>
<text x="618.60" y="466.20" font-size="19.6" font-family='"Liberation Sans", sans-serif' fill="#222222" stroke="#222222" transform="rotate(-20.5 618.60 466.20)">initial</text>
<text x="686.40" y="479.80" font-size="19.6" font-family='"Liberation Sans", sans-serif' fill="#222222" stroke="#222222" transform="rotate(-20.5 686.40 479.80)">activated</text>
<text x="781.00" y="481.40" font-size="19.6" font-family='"Liberation Sans", sans-serif' fill="#222222" stroke="#222222" transform="rotate(-20.5 781.00 481.40)">4k stability</text>
<g transform="translate(568.80 305.00) rotate(-90)">
<text x="-1.60" y="0.00" font-size="25.5" font-family='"Liberation Sans", sans-serif' fill="#222222" stroke="#222222" textLength="65.00" lengthAdjust="spacingAndGlyphs">ECSA</text>
<line x1="70.40" y1="0.4" x2="76.20" y2="-18.87" stroke="#222222" stroke-width="1.9"/>
<text x="82.60" y="0.00" font-size="25.5" font-family='"Liberation Sans", sans-serif' fill="#222222" stroke="#222222" textLength="21.00" lengthAdjust="spacingAndGlyphs">m</text>
<text x="101.80" y="-11.00" font-size="14" font-family='"Liberation Sans", sans-serif' fill="#222222" stroke="#222222" textLength="8.00" lengthAdjust="spacingAndGlyphs">2</text>
<text x="112.40" y="0.00" font-size="25.5" font-family='"Liberation Sans", sans-serif' fill="#222222" stroke="#222222" textLength="38.50" lengthAdjust="spacingAndGlyphs">mg</text>
<text x="149.40" y="8.80" font-size="14" font-family='"Liberation Sans", sans-serif' fill="#222222" stroke="#222222" textLength="14.50" lengthAdjust="spacingAndGlyphs">Pt</text>
<text x="162.60" y="-12.00" font-size="14" font-family='"Liberation Sans", sans-serif' fill="#222222" stroke="#222222" textLength="11.50" lengthAdjust="spacingAndGlyphs">-1</text>
</g>
<text x="558.00" y="23.80" font-size="31" font-family='"Liberation Sans", sans-serif' fill="#000" stroke="#000" font-weight="bold" textLength="17.80" lengthAdjust="spacingAndGlyphs">B</text>
</g>
<g id="panelC">
<rect x="997.30" y="189.06" width="31.50" height="241.54" fill="#fe0000" stroke="#900000" stroke-width="0.9"/>
<rect x="1028.40" y="237.81" width="31.00" height="192.79" fill="#e27a84" stroke="#6a3038" stroke-width="0.9"/>
<rect x="1090.20" y="138.31" width="31.50" height="292.29" fill="#4064aa" stroke="#1c2c54" stroke-width="0.9"/>
<rect x="1121.70" y="168.11" width="31.50" height="262.49" fill="#a4b4e2" stroke="#4a5478" stroke-width="0.9"/>
<rect x="1183.00" y="246.12" width="31.50" height="184.48" fill="#78883a" stroke="#3a4214" stroke-width="0.9"/>
<rect x="1214.50" y="218.81" width="31.50" height="211.79" fill="#a5d45c" stroke="#4a6a1c" stroke-width="0.9"/>
<line x1="1013.05" y1="132.55" x2="1013.05" y2="245.56" stroke="rgba(40,40,40,0.6)" stroke-width="0.85"/>
<line x1="1010.35" y1="132.55" x2="1015.75" y2="132.55" stroke="rgba(40,40,40,0.6)" stroke-width="0.85"/>
<line x1="1010.35" y1="245.56" x2="1015.75" y2="245.56" stroke="rgba(40,40,40,0.6)" stroke-width="0.85"/>
<line x1="1044.15" y1="197.92" x2="1044.15" y2="277.70" stroke="rgba(40,40,40,0.6)" stroke-width="0.85"/>
<line x1="1041.45" y1="197.92" x2="1046.85" y2="197.92" stroke="rgba(40,40,40,0.6)" stroke-width="0.85"/>
<line x1="1041.45" y1="277.70" x2="1046.85" y2="277.70" stroke="rgba(40,40,40,0.6)" stroke-width="0.85"/>
<line x1="1105.95" y1="30.83" x2="1105.95" y2="245.79" stroke="rgba(40,40,40,0.6)" stroke-width="0.85"/>
<line x1="1103.25" y1="30.83" x2="1108.65" y2="30.83" stroke="rgba(40,40,40,0.6)" stroke-width="0.85"/>
<line x1="1103.25" y1="245.79" x2="1108.65" y2="245.79" stroke="rgba(40,40,40,0.6)" stroke-width="0.85"/>
<line x1="1137.45" y1="120.47" x2="1137.45" y2="215.76" stroke="rgba(40,40,40,0.6)" stroke-width="0.85"/>
<line x1="1134.75" y1="120.47" x2="1140.15" y2="120.47" stroke="rgba(40,40,40,0.6)" stroke-width="0.85"/>
<line x1="1134.75" y1="215.76" x2="1140.15" y2="215.76" stroke="rgba(40,40,40,0.6)" stroke-width="0.85"/>
<line x1="1198.75" y1="184.62" x2="1198.75" y2="307.61" stroke="rgba(40,40,40,0.6)" stroke-width="0.85"/>
<line x1="1196.05" y1="184.62" x2="1201.45" y2="184.62" stroke="rgba(40,40,40,0.6)" stroke-width="0.85"/>
<line x1="1196.05" y1="307.61" x2="1201.45" y2="307.61" stroke="rgba(40,40,40,0.6)" stroke-width="0.85"/>
<line x1="1230.25" y1="161.74" x2="1230.25" y2="275.87" stroke="rgba(40,40,40,0.6)" stroke-width="0.85"/>
<line x1="1227.55" y1="161.74" x2="1232.95" y2="161.74" stroke="rgba(40,40,40,0.6)" stroke-width="0.85"/>
<line x1="1227.55" y1="275.87" x2="1232.95" y2="275.87" stroke="rgba(40,40,40,0.6)" stroke-width="0.85"/>
<rect x="966.20" y="15.20" width="310.40" height="415.40" fill="none" stroke="#4a4a4a" stroke-width="2.0"/>
<line x1="959.70" y1="430.60" x2="966.20" y2="430.60" stroke="#4a4a4a" stroke-width="1.8"/>
<line x1="1271.10" y1="430.60" x2="1276.60" y2="430.60" stroke="#4a4a4a" stroke-width="1.8"/>
<text x="956.80" y="437.60" font-size="22.6" font-family='"Liberation Sans", sans-serif' fill="#222222" stroke="#222222" text-anchor="end" textLength="31.40" lengthAdjust="spacingAndGlyphs">0.0</text>
<line x1="962.70" y1="402.90" x2="966.20" y2="402.90" stroke="#4a4a4a" stroke-width="1.8"/>
<line x1="1273.60" y1="402.90" x2="1276.60" y2="402.90" stroke="#4a4a4a" stroke-width="1.8"/>
<line x1="959.70" y1="375.20" x2="966.20" y2="375.20" stroke="#4a4a4a" stroke-width="1.8"/>
<line x1="1271.10" y1="375.20" x2="1276.60" y2="375.20" stroke="#4a4a4a" stroke-width="1.8"/>
<text x="956.80" y="382.20" font-size="22.6" font-family='"Liberation Sans", sans-serif' fill="#222222" stroke="#222222" text-anchor="end" textLength="31.40" lengthAdjust="spacingAndGlyphs">0.1</text>
<line x1="962.70" y1="347.50" x2="966.20" y2="347.50" stroke="#4a4a4a" stroke-width="1.8"/>
<line x1="1273.60" y1="347.50" x2="1276.60" y2="347.50" stroke="#4a4a4a" stroke-width="1.8"/>
<line x1="959.70" y1="319.80" x2="966.20" y2="319.80" stroke="#4a4a4a" stroke-width="1.8"/>
<line x1="1271.10" y1="319.80" x2="1276.60" y2="319.80" stroke="#4a4a4a" stroke-width="1.8"/>
<text x="956.80" y="326.80" font-size="22.6" font-family='"Liberation Sans", sans-serif' fill="#222222" stroke="#222222" text-anchor="end" textLength="31.40" lengthAdjust="spacingAndGlyphs">0.2</text>
<line x1="962.70" y1="292.10" x2="966.20" y2="292.10" stroke="#4a4a4a" stroke-width="1.8"/>
<line x1="1273.60" y1="292.10" x2="1276.60" y2="292.10" stroke="#4a4a4a" stroke-width="1.8"/>
<line x1="959.70" y1="264.40" x2="966.20" y2="264.40" stroke="#4a4a4a" stroke-width="1.8"/>
<line x1="1271.10" y1="264.40" x2="1276.60" y2="264.40" stroke="#4a4a4a" stroke-width="1.8"/>
<text x="956.80" y="271.40" font-size="22.6" font-family='"Liberation Sans", sans-serif' fill="#222222" stroke="#222222" text-anchor="end" textLength="31.40" lengthAdjust="spacingAndGlyphs">0.3</text>
<line x1="962.70" y1="236.70" x2="966.20" y2="236.70" stroke="#4a4a4a" stroke-width="1.8"/>
<line x1="1273.60" y1="236.70" x2="1276.60" y2="236.70" stroke="#4a4a4a" stroke-width="1.8"/>
<line x1="959.70" y1="209.00" x2="966.20" y2="209.00" stroke="#4a4a4a" stroke-width="1.8"/>
<line x1="1271.10" y1="209.00" x2="1276.60" y2="209.00" stroke="#4a4a4a" stroke-width="1.8"/>
<text x="956.80" y="216.00" font-size="22.6" font-family='"Liberation Sans", sans-serif' fill="#222222" stroke="#222222" text-anchor="end" textLength="31.40" lengthAdjust="spacingAndGlyphs">0.4</text>
<line x1="962.70" y1="181.30" x2="966.20" y2="181.30" stroke="#4a4a4a" stroke-width="1.8"/>
<line x1="1273.60" y1="181.30" x2="1276.60" y2="181.30" stroke="#4a4a4a" stroke-width="1.8"/>
<line x1="959.70" y1="153.60" x2="966.20" y2="153.60" stroke="#4a4a4a" stroke-width="1.8"/>
<line x1="1271.10" y1="153.60" x2="1276.60" y2="153.60" stroke="#4a4a4a" stroke-width="1.8"/>
<text x="956.80" y="160.60" font-size="22.6" font-family='"Liberation Sans", sans-serif' fill="#222222" stroke="#222222" text-anchor="end" textLength="31.40" lengthAdjust="spacingAndGlyphs">0.5</text>
<line x1="962.70" y1="125.90" x2="966.20" y2="125.90" stroke="#4a4a4a" stroke-width="1.8"/>
<line x1="1273.60" y1="125.90" x2="1276.60" y2="125.90" stroke="#4a4a4a" stroke-width="1.8"/>
<line x1="959.70" y1="98.20" x2="966.20" y2="98.20" stroke="#4a4a4a" stroke-width="1.8"/>
<line x1="1271.10" y1="98.20" x2="1276.60" y2="98.20" stroke="#4a4a4a" stroke-width="1.8"/>
<text x="956.80" y="105.20" font-size="22.6" font-family='"Liberation Sans", sans-serif' fill="#222222" stroke="#222222" text-anchor="end" textLength="31.40" lengthAdjust="spacingAndGlyphs">0.6</text>
<line x1="962.70" y1="70.50" x2="966.20" y2="70.50" stroke="#4a4a4a" stroke-width="1.8"/>
<line x1="1273.60" y1="70.50" x2="1276.60" y2="70.50" stroke="#4a4a4a" stroke-width="1.8"/>
<line x1="959.70" y1="42.80" x2="966.20" y2="42.80" stroke="#4a4a4a" stroke-width="1.8"/>
<line x1="1271.10" y1="42.80" x2="1276.60" y2="42.80" stroke="#4a4a4a" stroke-width="1.8"/>
<text x="956.80" y="49.80" font-size="22.6" font-family='"Liberation Sans", sans-serif' fill="#222222" stroke="#222222" text-anchor="end" textLength="31.40" lengthAdjust="spacingAndGlyphs">0.7</text>
<rect x="1152.60" y="19.00" width="116.00" height="115.00" fill="#ffffff"/>
<rect x="1157.00" y="21.90" width="33.40" height="15.40" fill="#fe0000" stroke="#900000" stroke-width="0.9"/>
<text x="1194.80" y="34.80" font-size="15.0" font-family='"Liberation Sans", sans-serif' fill="#222222" stroke="#222222" textLength="62.40" lengthAdjust="spacingAndGlyphs">activated</text>
<rect x="1157.00" y="40.85" width="33.40" height="15.40" fill="#e27a84" stroke="#6a3038" stroke-width="0.9"/>
<text x="1194.80" y="53.75" font-size="15.0" font-family='"Liberation Sans", sans-serif' fill="#222222" stroke="#222222" textLength="72.40" lengthAdjust="spacingAndGlyphs">4k stability</text>
<rect x="1157.00" y="59.80" width="33.40" height="15.40" fill="#4064aa" stroke="#1c2c54" stroke-width="0.9"/>
<text x="1194.80" y="72.70" font-size="15.0" font-family='"Liberation Sans", sans-serif' fill="#222222" stroke="#222222" textLength="62.40" lengthAdjust="spacingAndGlyphs">activated</text>
<rect x="1157.00" y="78.75" width="33.40" height="15.40" fill="#a4b4e2" stroke="#4a5478" stroke-width="0.9"/>
<text x="1194.80" y="91.65" font-size="15.0" font-family='"Liberation Sans", sans-serif' fill="#222222" stroke="#222222" textLength="72.40" lengthAdjust="spacingAndGlyphs">4k stability</text>
<rect x="1157.00" y="97.70" width="33.40" height="15.40" fill="#78883a" stroke="#3a4214" stroke-width="0.9"/>
<text x="1194.80" y="110.60" font-size="15.0" font-family='"Liberation Sans", sans-serif' fill="#222222" stroke="#222222" textLength="62.40" lengthAdjust="spacingAndGlyphs">activated</text>
<rect x="1157.00" y="116.65" width="33.40" height="15.40" fill="#a5d45c" stroke="#4a6a1c" stroke-width="0.9"/>
<text x="1194.80" y="129.55" font-size="15.0" font-family='"Liberation Sans", sans-serif' fill="#222222" stroke="#222222" textLength="72.40" lengthAdjust="spacingAndGlyphs">4k stability</text>
<text x="1011.40" y="464.60" font-size="22.8" font-family='"Liberation Sans", sans-serif' fill="#222222" stroke="#222222" transform="rotate(-20 1011.40 464.60)">HAc</text>
<text x="1078.50" y="482.00" font-size="22.8" font-family='"Liberation Sans", sans-serif' fill="#222222" stroke="#222222" transform="rotate(-20 1078.50 482.00)">HAc_300</text>
<text x="1171.50" y="482.00" font-size="22.8" font-family='"Liberation Sans", sans-serif' fill="#222222" stroke="#222222" transform="rotate(-20 1171.50 482.00)">HAc_500</text>
<g transform="translate(910.40 286.00) rotate(-90)">
<text x="0.30" y="0.00" font-size="25.5" font-family='"Liberation Sans", sans-serif' fill="#222222" stroke="#222222" textLength="7.00" lengthAdjust="spacingAndGlyphs">j</text>
<text x="7.60" y="9.30" font-size="15" font-family='"Liberation Sans", sans-serif' fill="#222222" stroke="#222222" textLength="12.00" lengthAdjust="spacingAndGlyphs">m</text>
<line x1="27.20" y1="0.4" x2="33.00" y2="-18.87" stroke="#222222" stroke-width="1.9"/>
<text x="40.60" y="0.00" font-size="25.5" font-family='"Liberation Sans", sans-serif' fill="#222222" stroke="#222222" textLength="15.60" lengthAdjust="spacingAndGlyphs">A</text>
<text x="63.40" y="0.00" font-size="25.5" font-family='"Liberation Sans", sans-serif' fill="#222222" stroke="#222222" textLength="34.50" lengthAdjust="spacingAndGlyphs">mg</text>
<text x="98.00" y="9.30" font-size="14.5" font-family='"Liberation Sans", sans-serif' fill="#222222" stroke="#222222" textLength="14.50" lengthAdjust="spacingAndGlyphs">Pt</text>
<text x="111.80" y="-12.00" font-size="14.5" font-family='"Liberation Sans", sans-serif' fill="#222222" stroke="#222222" textLength="11.50" lengthAdjust="spacingAndGlyphs">-1</text>
</g>
<text x="898.00" y="24.30" font-size="30.5" font-family='"Liberation Sans", sans-serif' fill="#000" stroke="#000" font-weight="bold" textLength="17.60" lengthAdjust="spacingAndGlyphs">C</text>
</g>
</g>
</svg>
</body></html>
